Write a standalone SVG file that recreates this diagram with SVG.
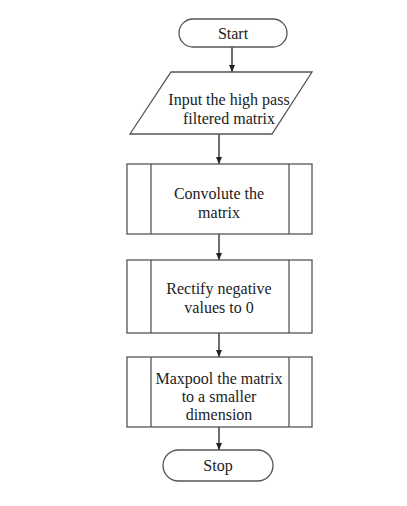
<svg xmlns="http://www.w3.org/2000/svg" width="407" height="506" viewBox="0 0 407 506">
<style>
.s{fill:#fff;stroke:#555;stroke-width:1.3}
.l{stroke:#555;stroke-width:1.3;fill:none}
.c{stroke:#222;stroke-width:1.3;fill:none;marker-end:url(#a)}
text{font-family:"Liberation Serif","Times New Roman",serif;font-size:16px;fill:#222;text-anchor:middle}
</style>
<defs>
<marker id="a" markerWidth="8" markerHeight="8" refX="7" refY="4" orient="auto" markerUnits="userSpaceOnUse">
<path d="M0,1 L7,4 L0,7 Z" fill="#222"/>
</marker>
</defs>
<rect width="407" height="506" fill="#fff"/>
<g id="connectors">
<line class="c" x1="232" y1="47" x2="232" y2="72"/>
<line class="c" x1="219" y1="134" x2="219" y2="164"/>
<line class="c" x1="219" y1="234" x2="219" y2="260"/>
<line class="c" x1="219" y1="333" x2="219" y2="357"/>
<line class="c" x1="219" y1="427" x2="219" y2="450"/>
</g>
<g id="start">
<rect class="s" x="179" y="19" width="108" height="28" rx="14"/>
<text x="233" y="39">Start</text>
</g>
<g id="input">
<polygon class="s" points="171,72 312,72 272,134 130,134"/>
<text x="229" y="105">Input the high pass</text>
<text x="229" y="124">filtered matrix</text>
</g>
<g id="convolute">
<rect class="s" x="127" y="164" width="185" height="70"/>
<line class="l" x1="151" y1="164" x2="151" y2="234"/>
<line class="l" x1="289" y1="164" x2="289" y2="234"/>
<text x="219" y="199">Convolute the</text>
<text x="219" y="218">matrix</text>
</g>
<g id="rectify">
<rect class="s" x="127" y="260" width="185" height="73"/>
<line class="l" x1="151" y1="260" x2="151" y2="333"/>
<line class="l" x1="289" y1="260" x2="289" y2="333"/>
<text x="219" y="294">Rectify negative</text>
<text x="219" y="313">values to 0</text>
</g>
<g id="maxpool">
<rect class="s" x="127" y="357" width="185" height="70"/>
<line class="l" x1="151" y1="357" x2="151" y2="427"/>
<line class="l" x1="289" y1="357" x2="289" y2="427"/>
<text x="219" y="384">Maxpool the matrix</text>
<text x="219" y="402">to a smaller</text>
<text x="219" y="420">dimension</text>
</g>
<g id="stop">
<rect class="s" x="163" y="450" width="110" height="31" rx="15.5"/>
<text x="218" y="471">Stop</text>
</g>
</svg>
